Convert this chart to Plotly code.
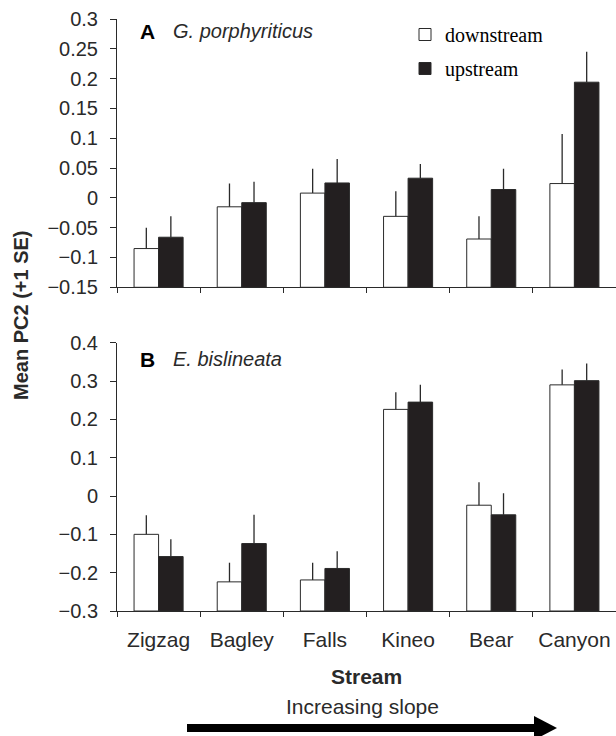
import plotly.graph_objects as go

# ---------------- data ----------------
streams = ["Zigzag", "Bagley", "Falls", "Kineo", "Bear", "Canyon"]

# Panel A: G. porphyriticus (mean PC2, +1 SE)
a_down_mean = [-0.085, -0.015, 0.008, -0.031, -0.069, 0.024]
a_down_se   = [0.035, 0.039, 0.041, 0.042, 0.038, 0.083]
a_up_mean   = [-0.066, -0.008, 0.025, 0.033, 0.014, 0.194]
a_up_se     = [0.035, 0.035, 0.040, 0.024, 0.035, 0.051]

# Panel B: E. bislineata
b_down_mean = [-0.100, -0.224, -0.219, 0.226, -0.024, 0.290]
b_down_se   = [0.050, 0.050, 0.045, 0.045, 0.060, 0.040]
b_up_mean   = [-0.158, -0.124, -0.189, 0.245, -0.049, 0.301]
b_up_se     = [0.045, 0.075, 0.045, 0.045, 0.056, 0.045]

a_range = [-0.15, 0.3]
b_range = [-0.3, 0.4]

# ---------------- styles ----------------
SANS = "Liberation Sans, Arial, sans-serif"
SERIF = "Liberation Serif, Times New Roman, serif"
INK = "#2a2a2a"
DARK = "#231f20"

W, H = 616, 736
L, R, T, B = 117, 0, 19, 125
PW, PH = W - L - R, H - T - B


def px2x(px):
    return (px - L) / PW


def px2y(py):
    return (H - B - py) / PH


fig = go.Figure()


def add_bars(means, ses, base, name, fill, xa, ya, showlegend):
    fig.add_trace(go.Bar(
        x=streams,
        y=[m - base for m in means],
        base=base,
        name=name,
        legendgroup=name,
        showlegend=showlegend,
        marker=dict(color=fill, line=dict(color=INK, width=1)),
        error_y=dict(type="data", array=ses, arrayminus=[0] * len(ses),
                     symmetric=False, width=0, thickness=1.3, color=INK),
        xaxis=xa, yaxis=ya,
        customdata=means,
        hovertemplate="%{x}: %{customdata}<extra>" + name + "</extra>",
    ))


add_bars(a_down_mean, a_down_se, a_range[0], "downstream", "white", "x", "y", True)
add_bars(a_up_mean, a_up_se, a_range[0], "upstream", DARK, "x", "y", True)
add_bars(b_down_mean, b_down_se, b_range[0], "downstream", "white", "x2", "y2", False)
add_bars(b_up_mean, b_up_se, b_range[0], "upstream", DARK, "x2", "y2", False)

top_dom = [px2y(287.3), 1.0]
bot_dom = [0.0, px2y(342.7)]

xcommon = dict(type="category", categoryorder="array", categoryarray=streams,
               range=[-0.5, 5.5], tickson="boundaries", ticks="outside",
               ticklen=5, tickwidth=1, tickcolor=INK, showline=True,
               linecolor=INK, linewidth=1, showgrid=False, zeroline=False,
               automargin=False, fixedrange=True)
ycommon = dict(ticks="outside", ticklen=6, tickwidth=1, tickcolor=INK,
               showline=True, linecolor=INK, linewidth=1, showgrid=False,
               zeroline=False, automargin=False, fixedrange=True,
               tickfont=dict(family=SANS, size=20, color=INK),
               ticklabelstandoff=8)

fig.update_layout(
    width=W, height=H,
    margin=dict(l=L, r=R, t=T, b=B, pad=0),
    paper_bgcolor="white", plot_bgcolor="white",
    barmode="group", bargap=0.41, bargroupgap=0,
    xaxis=dict(xcommon, anchor="y", domain=[0, 1], showticklabels=False),
    yaxis=dict(ycommon, anchor="x", domain=top_dom, range=a_range,
               tick0=0, dtick=0.05),
    xaxis2=dict(xcommon, anchor="y2", domain=[0, 1], showticklabels=True,
                tickfont=dict(family=SANS, size=21, color=INK),
                ticklabelstandoff=10),
    yaxis2=dict(ycommon, anchor="x2", domain=bot_dom, range=b_range,
                tick0=0, dtick=0.1),
    showlegend=True,
    legend=dict(x=px2x(405), y=px2y(15), xanchor="left", yanchor="top",
                bgcolor="rgba(0,0,0,0)", borderwidth=0,
                font=dict(family=SERIF, size=20, color="black"),
                traceorder="grouped", tracegroupgap=5, itemwidth=30,
                itemclick=False, itemdoubleclick=False),
    font=dict(family=SANS, color=INK),
)

annotations = [
    dict(text="<b>A</b>", x=px2x(138), y=px2y(31), xanchor="left", yanchor="middle",
         font=dict(family=SANS, size=21, color="black")),
    dict(text="<i>G. porphyriticus</i>", x=px2x(171), y=px2y(31), xanchor="left",
         yanchor="middle", font=dict(family=SANS, size=20, color=INK)),
    dict(text="<b>B</b>", x=px2x(138), y=px2y(359), xanchor="left", yanchor="middle",
         font=dict(family=SANS, size=21, color="black")),
    dict(text="<i>E. bislineata</i>", x=px2x(171), y=px2y(359), xanchor="left",
         yanchor="middle", font=dict(family=SANS, size=20, color=INK)),
    dict(text="<b>Mean PC2 (+1 SE)</b>", x=px2x(21), y=px2y(315), textangle=-90,
         xanchor="center", yanchor="middle",
         font=dict(family=SANS, size=20, color=INK)),
    dict(text="<b>Stream</b>", x=px2x(366.5), y=px2y(676), xanchor="center",
         yanchor="middle", font=dict(family=SANS, size=21, color=INK)),
    dict(text="Increasing slope", x=px2x(362), y=px2y(706), xanchor="center",
         yanchor="middle", font=dict(family=SANS, size=21, color=INK)),
]
for a in annotations:
    a.update(xref="paper", yref="paper", showarrow=False)
fig.update_layout(annotations=annotations)

# arrow below the axis
ay = px2y(728)
fig.add_shape(type="line", xref="paper", yref="paper",
              x0=px2x(187), x1=px2x(536), y0=ay, y1=ay,
              line=dict(color="black", width=8))
fig.add_shape(type="path", xref="paper", yref="paper",
              path=f"M {px2x(534)},{px2y(716)} L {px2x(557)},{ay} L {px2x(534)},{px2y(740)} Z",
              fillcolor="black", line=dict(color="black", width=0))

fig.write_html("out.html", config=dict(displayModeBar=False),
               post_script="document.body.style.margin='0';document.body.style.overflow='hidden';")
